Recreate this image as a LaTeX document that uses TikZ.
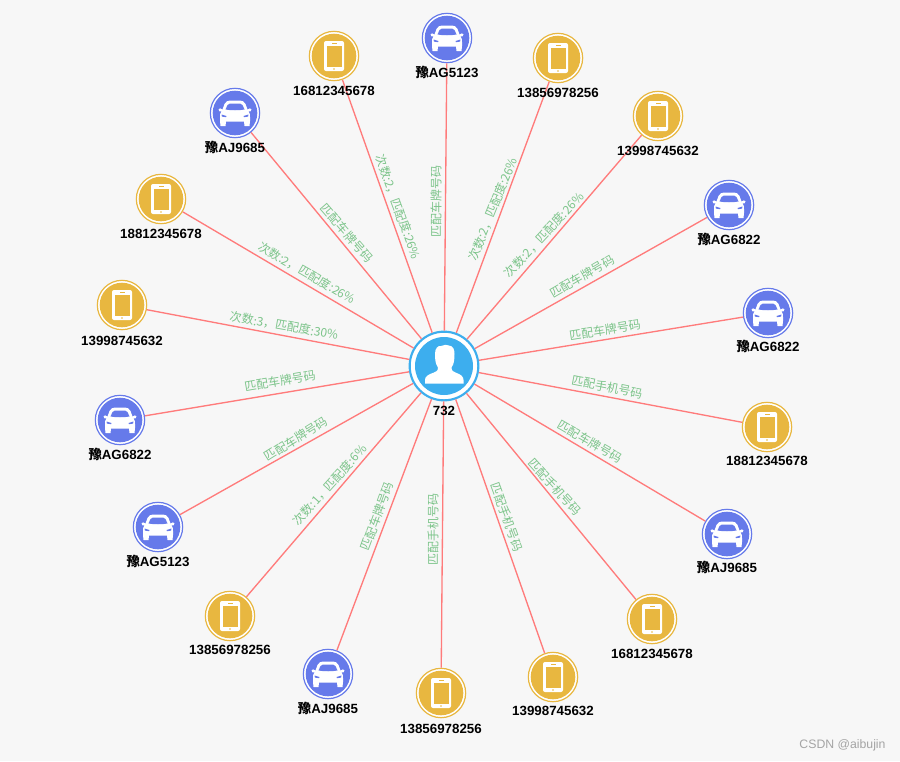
\documentclass[tikz,border=0pt]{standalone}
\usepackage{fontspec}
\setmainfont{Liberation Sans}
\newfontfamily\cjkf{Noto Sans CJK SC}
\newcommand{\yu}{{\cjkf\bfseries 豫}}
\definecolor{bgc}{HTML}{F7F7F7}
\definecolor{carc}{HTML}{667AEA}
\definecolor{phonec}{HTML}{E8B740}
\definecolor{userc}{HTML}{3DAEEE}
\definecolor{edgec}{HTML}{FF7B7B}
\definecolor{labc}{HTML}{7CC48A}
\definecolor{markc}{HTML}{A4A4A4}
\tikzset{
  x=0.75pt,y=-0.75pt,
  ent/.style={circle,fill=white,draw=#1,line width=0.9pt,minimum size=37pt,inner sep=0pt},
  entname/.style={font=\fontsize{10}{10}\selectfont\bfseries,text=black,inner sep=0pt},
  edgelab/.style={font=\cjkf\fontsize{9}{10}\selectfont,text=labc,inner sep=0pt},
  link/.style={draw=edgec,line width=1pt}
}
\newcommand{\caricon}[2]{%
  \begin{scope}[shift={(#1,#2)}]
    \fill[carc] (0,0) circle[radius=22.3];
    \fill[white] (-16.5,-3.5) .. controls (-16.5,-5) and (-13.5,-5) .. (-12.5,-3.5) -- (-10.5,-9) .. controls (-9.5,-11.5) and (-7,-12.5) .. (-5,-12.5) -- (5,-12.5) .. controls (7,-12.5) and (9.5,-11.5) .. (10.5,-9) -- (12.5,-3.5) .. controls (13.5,-5) and (16.5,-5) .. (16.5,-3.5) .. controls (16.5,-1.5) and (15,-1.5) .. (13.5,-1.5) .. controls (15,0) and (15,2) .. (15,4) -- (15,8) -- (14.5,13) -- (9.5,13) -- (9,8.5) -- (-9,8.5) -- (-9.5,13) -- (-14.5,13) -- (-15,8) -- (-15,4) .. controls (-15,2) and (-15,0) .. (-13.5,-1.5) .. controls (-15,-1.5) and (-16.5,-1.5) .. (-16.5,-3.5) -- cycle;
    \fill[carc] (-7.5,-8) .. controls (-7,-9) and (-6,-9.5) .. (-5,-9.5) -- (5,-9.5) .. controls (6,-9.5) and (7,-9) .. (7.5,-8) -- (9.5,-3.5) .. controls (4,-2.5) and (-4,-2.5) .. (-9.5,-3.5) -- cycle;
    \fill[carc] (-13.5,1.5) -- (-8.5,3) -- (-9,4.2) -- (-13,3.6) -- cycle;
    \fill[carc] (13.5,1.5) -- (8.5,3) -- (9,4.2) -- (13,3.6) -- cycle;
  \end{scope}}
\newcommand{\phoneicon}[2]{%
  \begin{scope}[shift={(#1,#2)}]
    \fill[phonec] (0,0) circle[radius=22.3];
    \fill[white,rounded corners=1.5] (-10,-15) rectangle (10,15);
    \fill[phonec] (-7.5,-10.5) rectangle (7.5,11);
    \fill[phonec] (-2.5,-13.2) rectangle (2.5,-12.4);
    \fill[phonec] (0,13) circle[radius=0.8];
  \end{scope}}
\begin{document}
\begin{tikzpicture}
\useasboundingbox (0,0) rectangle (900,761);
\fill[bgc] (0,0) rectangle (900,761);
% centre
\node[circle,draw=userc,line width=1.6pt,fill=white,minimum size=51.5pt,inner sep=0pt] (hub) at (444,366) {};
\fill[userc] (444,366) circle[radius=29];
\fill[white] (425,383.5) -- (425,380) .. controls (425,376.5) and (428,374.5) .. (434,372.5) .. controls (437.5,371) and (438.5,369.5) .. (438,367.5) .. controls (435.5,364) and (435,360) .. (435,354) .. controls (435,348) and (438,345.5) .. (441,346) .. controls (444,344.5) and (447,344.5) .. (449,345.5) .. controls (453,346) and (454.5,349) .. (454.5,354) .. controls (454.5,360) and (454,364) .. (451.5,367.5) .. controls (451,369.5) and (452,371) .. (455.5,372.5) .. controls (461,374.5) and (463.5,376.5) .. (463.5,380) -- (463.5,383.5) -- cycle;
% entities
\foreach \n/\x/\y/\k in {
  a/447/38/car, b/558/58/phone, c/658/116/phone, d/729/205/car, e/768/313/car,
  f/767/427/phone, g/727/534/car, h/652/619/phone, i/553/677/phone, j/441/693/phone,
  k/328/674/car, l/230/616/phone, m/158/527/car, n/120/420/car, o/122/305/phone,
  p/161/199/phone, q/235/113/car, r/334/56/phone}{
  \node[ent=\k c] (\n) at (\x,\y) {};
  \csname\k icon\endcsname{\x}{\y}
  \draw[link] (hub) -- (\n);
}
% entity names
\node[entname] (hublab) at (444,410.5) {732};
\foreach \n/\x/\ly/\t in {
  a/447/72.5/\yu AG5123,
  b/558/92.5/13856978256,
  c/658/150.5/13998745632,
  d/729/239.5/\yu AG6822,
  e/768/346.5/\yu AG6822,
  f/767/460.5/18812345678,
  g/727/567.5/\yu AJ9685,
  h/652/653.5/16812345678,
  i/553/710.5/13998745632,
  j/441/728.5/13856978256,
  k/328/708.5/\yu AJ9685,
  l/230/649.5/13856978256,
  m/158/561.5/\yu AG5123,
  n/120/454.5/\yu AG6822,
  o/122/340.5/13998745632,
  p/161/233.5/18812345678,
  q/235/147.5/\yu AJ9685,
  r/334/90.5/16812345678}{
  \node[entname] (\n lab) at (\x,\ly) {\t};
}
% edge labels
\foreach \n/\x/\y/\r/\t in {
  a/436/201/90/匹配车牌号码,
  b/493/209/68/{次数:2，匹配度:26\%},
  c/544/235/47/{次数:2，匹配度:26\%},
  d/582/277/30/匹配车牌号码,
  e/605/330/9/匹配车牌号码,
  f/607/387/-11/匹配手机号码,
  g/590/442/-30/匹配车牌号码,
  h/555/487/-48/匹配手机号码,
  i/507/517/-70/匹配手机号码,
  j/433/529/90/匹配手机号码,
  k/377/516/70/匹配车牌号码,
  l/330/485/48/{次数:1，匹配度:6\%},
  m/296/439/32/匹配车牌号码,
  n/280/381/10/匹配车牌号码,
  o/284/326/-10/{次数:3，匹配度:30\%},
  p/307/273/-30/{次数:2，匹配度:26\%},
  q/347/233/-49/匹配车牌号码,
  r/398/207/-70/{次数:2，匹配度:26\%}}{
  \node[edgelab,rotate=\r] (el\n) at (\x,\y) {\t};
}
\node[font=\fontsize{9.2}{10}\selectfont,text=markc,inner sep=0pt] (mark) at (842.5,745) {CSDN @aibujin};
\end{tikzpicture}
\end{document}
